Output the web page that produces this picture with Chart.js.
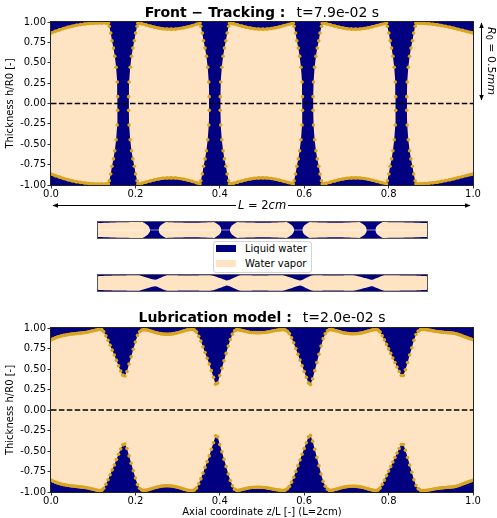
<!DOCTYPE html>
<html>
<head>
<meta charset="utf-8">
<title>Front-tracking and lubrication model: liquid film in a tube</title>
<script src="https://cdn.jsdelivr.net/npm/chart.js@4.4.1/dist/chart.umd.min.js"></script>
<style>
  html, body { margin: 0; padding: 0; background: #fff; overflow: hidden; }
  #fig { position: relative; width: 497px; height: 518px; font-family: 'DejaVu Sans', sans-serif; color: #000; }
  #fig canvas { position: absolute; display: block; }
  .ttl { position: absolute; left: 0; width: 524px; text-align: center; font-size: 14px; line-height: 16px; white-space: pre; }
  .ttl b { font-weight: bold; }
  .ttl span.t { margin-left: 11px; }
  .strip { position: absolute; left: 97px; width: 329px; height: 16px; border: 1px solid #55555f; }
  .strip canvas { left: 0; top: 0; }
  #legend { position: absolute; left: 213px; top: 241px; width: 97px; height: 30px; border: 1px solid #d4d4d4; border-radius: 3px; background: rgba(255,255,255,0.85); font-size: 10px; line-height: 12px; }
  #legend .patch { position: absolute; left: 2px; width: 20px; height: 7px; }
  #legend .txt { position: absolute; left: 31px; white-space: nowrap; }
  #lenLabel { position: absolute; left: 236px; width: 52px; top: 199px; text-align: center; background: #fff; font-size: 11.5px; line-height: 13px; white-space: nowrap; }
  #radLabel { position: absolute; left: 489px; top: 61px; transform: translate(-50%, -50%) rotate(90deg); font-size: 11px; line-height: 12px; white-space: nowrap; }
  #radLabel sub { font-size: 8px; font-style: normal; vertical-align: -2px; }
  svg#ann { position: absolute; left: 0; top: 0; pointer-events: none; }
</style>
</head>
<body>
<div id="fig">
  <canvas id="ftChart" width="497" height="200" style="left:0;top:0;width:497px;height:200px"></canvas>
  <canvas id="lubChart" width="497" height="218" style="left:0;top:300px;width:497px;height:218px"></canvas>

  <div class="ttl" style="top:4px"><b>Front − Tracking :</b><span class="t">t=7.9e-02 s</span></div>
  <div class="ttl" style="top:309px"><b>Lubrication model :</b><span class="t">t=2.0e-02 s</span></div>

  <div class="strip" style="top:221px"><canvas id="ftStrip" width="329" height="16" style="width:329px;height:16px"></canvas></div>
  <div class="strip" style="top:274px"><canvas id="lubStrip" width="329" height="16" style="width:329px;height:16px"></canvas></div>

  <div id="legend">
    <span class="patch" style="top:3px;background:#000080"></span><span class="txt" style="top:1px">Liquid water</span>
    <span class="patch" style="top:18px;background:#FFE4C4"></span><span class="txt" style="top:16px">Water vapor</span>
  </div>

  <svg id="ann" width="497" height="518">
    <defs>
      <marker id="head" viewBox="0 0 10 10" refX="9" refY="5" markerWidth="6" markerHeight="6" orient="auto-start-reverse">
        <path d="M0,1 L10,5 L0,9 z" fill="#000"/>
      </marker>
    </defs>
    <line x1="53" y1="205.5" x2="470" y2="205.5" stroke="#000" stroke-width="1" marker-start="url(#head)" marker-end="url(#head)"/>
    <line x1="481.5" y1="23" x2="481.5" y2="100" stroke="#000" stroke-width="1" marker-start="url(#head)" marker-end="url(#head)"/>
  </svg>
  <div id="lenLabel"><i>L</i> = 2<i>cm</i></div>
  <div id="radLabel"><i>R</i><sub>0</sub> = 0.5<i>mm</i></div>
</div>

<script>
// ---- Front-tracking: markers on the upper interface of each vapour bubble [z/L, h/R0]
// (the lower interface is the mirror image about the axis h = 0)
const ftBubbleA = [
  [0.000,0.865],[0.010,0.885],[0.020,0.903],[0.030,0.920],[0.040,0.935],[0.050,0.948],[0.060,0.959],
  [0.070,0.968],[0.080,0.975],[0.090,0.981],[0.100,0.985],[0.110,0.987],[0.120,0.988],[0.130,0.988],
  [0.136,0.985],[0.138,0.947],[0.1415,0.865],[0.1445,0.770],[0.148,0.680],[0.1512,0.580],[0.1543,0.444],
  [0.1569,0.264],[0.1579,0.084]
];
const ftBubbleB = [
  [0.1841,0.084],[0.1851,0.264],[0.1877,0.444],[0.1908,0.580],[0.194,0.680],[0.1975,0.770],[0.2005,0.865],
  [0.204,0.947],[0.206,0.985],
  [0.215,0.978],[0.225,0.965],[0.235,0.950],[0.245,0.937],[0.255,0.926],[0.265,0.918],[0.275,0.913],
  [0.285,0.912],[0.295,0.915],[0.305,0.921],[0.315,0.930],[0.325,0.942],[0.335,0.956],[0.345,0.972],
  [0.353,0.985],[0.355,0.947],[0.3585,0.865],[0.3615,0.770],[0.365,0.680],[0.3682,0.580],[0.3713,0.444],
  [0.3739,0.264],[0.3749,0.084]
];
const ftBubbleC = [
  [0.4011,0.084],[0.4021,0.264],[0.4047,0.444],[0.4078,0.580],[0.411,0.680],[0.4145,0.770],[0.4175,0.865],
  [0.421,0.947],[0.423,0.985],
  [0.432,0.978],[0.442,0.965],[0.452,0.950],[0.462,0.937],[0.472,0.926],[0.482,0.918],[0.492,0.913],
  [0.502,0.912],[0.512,0.915],[0.522,0.921],[0.532,0.930],[0.542,0.942],[0.552,0.956],[0.562,0.970],
  [0.574,0.985],[0.576,0.947],[0.5795,0.865],[0.5825,0.770],[0.586,0.680],[0.5892,0.580],[0.5923,0.444],
  [0.5949,0.264],[0.5959,0.084]
];
const ftBubbleD = [
  [0.6211,0.084],[0.6221,0.264],[0.6247,0.444],[0.6278,0.580],[0.631,0.680],[0.6345,0.770],[0.6375,0.865],
  [0.641,0.947],[0.643,0.985],
  [0.652,0.978],[0.662,0.965],[0.672,0.950],[0.682,0.937],[0.692,0.926],[0.702,0.918],[0.712,0.913],
  [0.722,0.912],[0.732,0.915],[0.742,0.921],[0.752,0.930],[0.762,0.942],[0.772,0.956],[0.782,0.970],
  [0.795,0.985],[0.797,0.947],[0.8005,0.865],[0.8035,0.770],[0.807,0.680],[0.8102,0.580],[0.8133,0.444],
  [0.8159,0.264],[0.8169,0.084]
];
const ftBubbleE = [
  [0.8431,0.084],[0.8441,0.264],[0.8467,0.444],[0.8498,0.580],[0.853,0.680],[0.8565,0.770],[0.8595,0.865],
  [0.863,0.947],[0.865,0.985],
  [0.875,0.985],[0.885,0.982],[0.895,0.978],[0.905,0.972],[0.915,0.965],[0.925,0.956],[0.935,0.946],
  [0.945,0.935],[0.955,0.923],[0.965,0.910],[0.975,0.897],[0.985,0.884],[0.995,0.871],[1.000,0.865]
];

// ---- Lubrication model: film interface h/R0, sampled every LUB_DZ in z/L from 0 to 1
const LUB_DZ = 0.005;
const lubH = [
  0.855,0.868,0.879,0.889,0.897,0.904,0.910,0.915,0.919,0.923,0.926,0.929,0.932,0.935,0.938,0.941,0.945,0.949,0.954,0.960,
  0.966,0.972,0.978,0.983,0.980,0.955,0.905,0.850,0.790,0.730,0.670,0.605,0.540,0.475,0.425,0.415,0.470,0.560,0.650,0.740,
  0.830,0.910,0.955,0.975,0.980,0.978,0.972,0.965,0.957,0.949,0.942,0.936,0.931,0.927,0.925,0.924,0.925,0.927,0.931,0.936,
  0.942,0.949,0.957,0.965,0.972,0.978,0.982,0.984,0.975,0.950,0.900,0.840,0.770,0.700,0.630,0.560,0.480,0.400,0.315,0.330,
  0.420,0.510,0.600,0.690,0.780,0.860,0.925,0.965,0.980,0.978,0.972,0.966,0.960,0.954,0.949,0.946,0.944,0.943,0.943,0.943,
  0.944,0.946,0.949,0.953,0.958,0.963,0.968,0.973,0.977,0.980,0.981,0.976,0.960,0.930,0.880,0.820,0.750,0.680,0.610,0.540,
  0.470,0.400,0.330,0.310,0.380,0.480,0.580,0.680,0.780,0.870,0.930,0.965,0.980,0.979,0.974,0.967,0.960,0.953,0.946,0.940,
  0.935,0.932,0.930,0.929,0.930,0.932,0.935,0.940,0.946,0.953,0.960,0.967,0.974,0.979,0.982,0.975,0.950,0.905,0.855,0.800,
  0.745,0.690,0.635,0.580,0.525,0.470,0.420,0.420,0.490,0.580,0.670,0.760,0.850,0.920,0.960,0.977,0.983,0.983,0.980,0.976,
  0.971,0.966,0.961,0.957,0.953,0.950,0.947,0.945,0.943,0.941,0.939,0.935,0.930,0.922,0.913,0.903,0.893,0.884,0.874,0.865,
  0.857
];

// ---- Axis ticks
const zTicks = [0, 0.2, 0.4, 0.6, 0.8, 1.0];
const hTicks = [-1, -0.75, -0.5, -0.25, 0, 0.25, 0.5, 0.75, 1];

const NAVY = '#000080', VAPOR = '#FFE4C4', MARK = '#DAA520', NONE = 'rgba(0,0,0,0)';

Chart.defaults.font.family = "'DejaVu Sans', sans-serif";
Chart.defaults.color = '#000';

// paints the liquid (navy) background of the plotting area and the axes frame
const wallPlugin = {
  id: 'wall',
  beforeDatasetsDraw(chart, args, opts) {
    const {ctx, chartArea: a} = chart;
    ctx.save();
    ctx.fillStyle = NAVY;
    ctx.fillRect(a.left, a.top, a.right - a.left, a.bottom - a.top);
    ctx.restore();
  },
  afterDatasetsDraw(chart, args, opts) {
    if (!opts.frame) return;
    const {ctx, chartArea: a} = chart;
    ctx.save();
    ctx.strokeStyle = '#222';
    ctx.lineWidth = 1;
    ctx.strokeRect(a.left - 0.5, a.top - 0.5, a.right - a.left + 1, a.bottom - a.top + 1);
    ctx.restore();
  }
};

const upper = pts => pts.map(p => ({x: p[0], y: p[1]}));
const lower = pts => pts.map(p => ({x: p[0], y: -p[1]}));

// vapour region: filled between the upper interface and its mirror
function vapourFill(pts) {
  const base = { order: 2, tension: 0, borderColor: NONE, borderWidth: 1, pointRadius: 0, backgroundColor: VAPOR };
  return [
    Object.assign({}, base, { data: upper(pts), fill: false }),
    Object.assign({}, base, { data: lower(pts), fill: '-1' })
  ];
}

// near-vertical pieces of the interface show only the markers
function steep(c) {
  return Math.abs(c.p1.y - c.p0.y) > 1.2 * Math.abs(c.p1.x - c.p0.x);
}

// interface markers (upper and lower)
function interfaceMarks(pts) {
  const base = {
    order: 1, tension: 0, fill: false,
    borderColor: MARK, borderWidth: 3,
    pointRadius: 1.8, pointBackgroundColor: MARK, pointBorderWidth: 0,
    segment: { borderColor: c => steep(c) ? NONE : MARK }
  };
  return [
    Object.assign({}, base, { data: upper(pts) }),
    Object.assign({}, base, { data: lower(pts) })
  ];
}

function axisLine(color, width, dash) {
  return {
    order: 0, data: [{x: 0, y: 0}, {x: 1, y: 0}], borderColor: color, borderWidth: width,
    borderDash: dash, pointRadius: 0, fill: false
  };
}

const lubPoints = lubH.map((h, i) => [i * LUB_DZ, h]);
const ftBubbles = [ftBubbleA, ftBubbleB, ftBubbleC, ftBubbleD, ftBubbleE];

function panelScales(xHeight, xTitle) {
  return {
    x: {
      type: 'linear', min: 0, max: 1,
      afterBuildTicks: s => { s.ticks = zTicks.map(v => ({value: v})); },
      afterFit: s => { s.height = xHeight; },
      ticks: { callback: v => v.toFixed(1), font: {size: 10}, color: '#000', padding: 0, maxRotation: 0, autoSkip: false },
      grid: { drawOnChartArea: false, drawTicks: true, tickLength: 3.5, tickColor: '#000', tickWidth: 0.8 },
      border: { display: false },
      title: xTitle ? { display: true, text: xTitle, font: {size: 10}, color: '#000', padding: {top: 0, bottom: 0} } : { display: false }
    },
    y: {
      min: -1, max: 1,
      afterBuildTicks: s => { s.ticks = hTicks.map(v => ({value: v})); },
      afterFit: s => { s.width = 51; },
      ticks: { callback: v => v.toFixed(2), font: {size: 10}, color: '#000', padding: 1.5, autoSkip: false },
      grid: { drawOnChartArea: false, drawTicks: true, tickLength: 3.5, tickColor: '#000', tickWidth: 0.8 },
      border: { display: false },
      title: { display: true, text: 'Thickness h/R0 [-]', font: {size: 10}, color: '#000', padding: {top: 4, bottom: 0} }
    }
  };
}

function basePanelOptions(padding, scales, frame) {
  return {
    responsive: false, animation: false, devicePixelRatio: 1, events: [],
    layout: { padding: padding },
    plugins: { legend: {display: false}, tooltip: {enabled: false}, wall: {frame: frame} },
    scales: scales
  };
}

const dashed = () => axisLine('#000', 1.5, [5.5, 2.4]);

// Front-tracking panel
new Chart(document.getElementById('ftChart'), {
  type: 'line',
  data: { datasets: [dashed()]
    .concat(...ftBubbles.map(vapourFill))
    .concat(...ftBubbles.map(interfaceMarks)) },
  options: basePanelOptions({left: 0, top: 22, right: 24, bottom: 0}, panelScales(15, null), true),
  plugins: [wallPlugin]
});

// Lubrication-model panel
new Chart(document.getElementById('lubChart'), {
  type: 'line',
  data: { datasets: [dashed()].concat(vapourFill(lubPoints), interfaceMarks(lubPoints)) },
  options: basePanelOptions({left: 0, top: 28, right: 24, bottom: 0}, panelScales(26, 'Axial coordinate z/L [-] (L=2cm)'), true),
  plugins: [wallPlugin]
});

// Tube sketches of both states
const stripScales = {
  x: { type: 'linear', display: false, min: 0, max: 1 },
  y: { display: false, min: -1, max: 1 }
};
new Chart(document.getElementById('ftStrip'), {
  type: 'line',
  data: { datasets: [axisLine('rgba(255,255,255,0.55)', 1, [])].concat(...ftBubbles.map(vapourFill)) },
  options: basePanelOptions(0, stripScales, false),
  plugins: [wallPlugin]
});
new Chart(document.getElementById('lubStrip'), {
  type: 'line',
  data: { datasets: vapourFill(lubPoints) },
  options: basePanelOptions(0, stripScales, false),
  plugins: [wallPlugin]
});
</script>
</body>
</html>
